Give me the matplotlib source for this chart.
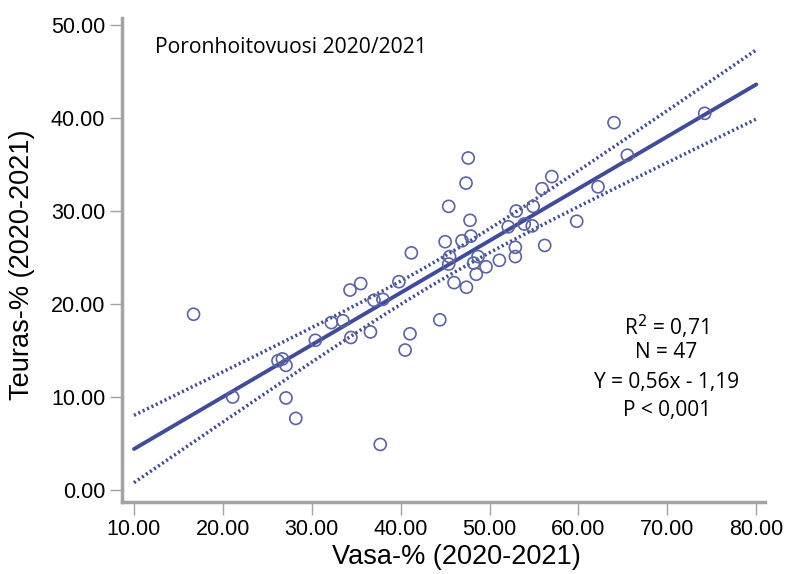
import numpy as np
from matplotlib import pyplot as plt

# reindeer herding year 2020/2021: calf-% vs slaughter-%
vasa = [16.7, 21.1, 26.2, 26.7, 27.1, 27.1, 28.2, 30.4, 32.2, 33.5,
        34.3, 35.5, 34.4, 36.6, 37.0, 38.0, 37.7, 39.8, 40.5, 41.05,
        44.4, 45.4, 46.0, 41.2, 45.0, 45.4, 45.5, 46.9, 47.6, 47.35,
        47.8, 47.9, 47.4, 48.2, 48.7, 48.5, 49.6, 51.1, 52.1, 52.9,
        52.9, 53.0, 53.9, 54.8, 54.9, 55.9, 57.0, 56.2, 59.8, 62.2,
        65.5, 64.0, 74.2]
teuras = [18.9, 10.0, 13.9, 14.1, 13.4, 9.9, 7.7, 16.1, 18.0, 18.2,
          21.5, 22.2, 16.4, 17.0, 20.4, 20.5, 4.9, 22.4, 15.05, 16.8,
          18.3, 24.3, 22.3, 25.5, 26.7, 30.5, 25.1, 26.8, 35.7, 33.0,
          29.0, 27.3, 21.8, 24.4, 25.1, 23.2, 24.0, 24.7, 28.3, 26.1,
          25.1, 30.0, 28.6, 28.4, 30.5, 32.4, 33.7, 26.3, 28.9, 32.6,
          36.0, 39.5, 40.5]

slope = 0.56
intercept = -1.19
stats_lines = ["R$^2$ = 0,71", "N = 47", "Y = 0,56x - 1,19", "P < 0,001"]

x = np.array(vasa)
y = np.array(teuras)

# fitted line and 95% confidence band for the mean
xs = np.linspace(10, 80, 200)
fit = intercept + slope * xs
n = len(x)
resid = y - (intercept + slope * x)
s = np.sqrt(np.sum(resid ** 2) / (n - 2))
sxx = np.sum((x - x.mean()) ** 2)
half = 2.01 * s * np.sqrt(1.0 / n + (xs - x.mean()) ** 2 / sxx)

col = '#3f4c99'
gray = '#a3a3a3'

fig = plt.figure(figsize=(7.85, 5.74), dpi=100)
ax = fig.add_axes([0.1554, 0.1254, 0.8191, 0.8432])

ax.plot(xs, fit, color=col, lw=2.8, solid_capstyle='round', zorder=3)
ax.plot(xs, fit + half, color=col, lw=2.5, ls=(0, (0.6, 0.8)), zorder=3)
ax.plot(xs, fit - half, color=col, lw=2.5, ls=(0, (0.6, 0.8)), zorder=3)
ax.scatter(x, y, s=75, facecolors='none', edgecolors='#5a62a8',
           linewidths=1.2, zorder=4)

ax.set_xlim(8.65, 80.98)
ax.set_ylim(-1.29, 50.75)
ax.set_xticks(np.arange(10, 81, 10))
ax.set_yticks(np.arange(0, 51, 10))
ax.set_xticklabels(['%.2f' % v for v in np.arange(10, 81, 10)])
ax.set_yticklabels(['%.2f' % v for v in np.arange(0, 51, 10)])

for side in ['top', 'right']:
    ax.spines[side].set_visible(False)
for side in ['left', 'bottom']:
    ax.spines[side].set_color(gray)
    ax.spines[side].set_linewidth(2.5)
ax.tick_params(direction='out', length=9, width=1, color=gray,
               labelsize=15.5, pad=3)
for lab in ax.get_xticklabels() + ax.get_yticklabels():
    lab.set_family('Liberation Sans')

ax.set_xlabel('Vasa-% (2020-2021)', family='Liberation Sans', fontsize=19.5)
ax.set_ylabel('Teuras-% (2020-2021)', family='Liberation Sans', fontsize=19.5)
ax.xaxis.label.set_va('center')
ax.yaxis.label.set_va('center')
ax.xaxis.set_label_coords(0.52, -0.114)
ax.yaxis.set_label_coords(-0.156, 0.49)

ax.text(0.051, 0.94, 'Poronhoitovuosi 2020/2021', transform=ax.transAxes,
        family='Open Sans', fontsize=15.2, va='center')

ys = [0.362, 0.308, 0.246, 0.190]
for t, yy in zip(stats_lines, ys):
    ax.text(0.847, yy, t, transform=ax.transAxes, family='Open Sans',
            fontsize=15, ha='center', va='center')

fig.savefig('out.png', dpi=100)
